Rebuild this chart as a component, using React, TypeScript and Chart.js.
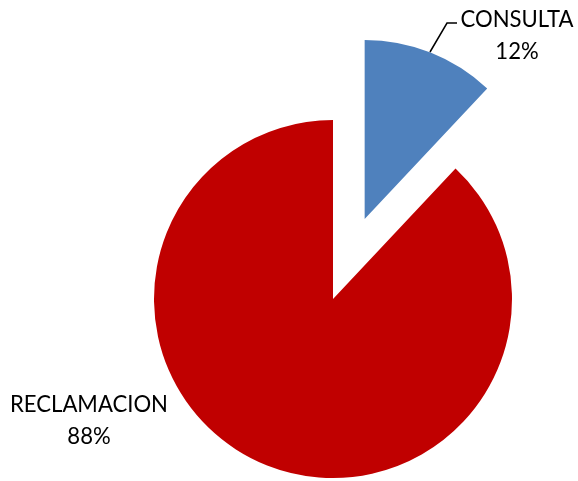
import React, { useEffect, useRef } from "react";
import { Chart, registerables } from "chart.js";

Chart.register(...registerables);

const categories = ["CONSULTA", "RECLAMACION"];
const values = [12, 88];
const colors = ["#4F81BD", "#C00000"];
const explode = [86, 0];

const FONT_FAMILY = "Lato, 'Open Sans', sans-serif";

const explodePlugin = {
  id: "explodeSlices",
  afterUpdate(chart: any) {
    const meta = chart.getDatasetMeta(0);
    meta.data.forEach((arc: any, i: number) => {
      const d = explode[i] || 0;
      if (!d) return;
      const mid = (arc.startAngle + arc.endAngle) / 2;
      arc.x = arc.x + Math.cos(mid) * d;
      arc.y = arc.y + Math.sin(mid) * d;
    });
  },
};

const labelPlugin = {
  id: "pieLabels",
  afterDatasetsDraw(chart: any) {
    const ctx = chart.ctx as CanvasRenderingContext2D;
    const data = chart.data.datasets[0].data as number[];
    const labels = chart.data.labels as string[];
    const total = data.reduce((a, b) => a + b, 0);
    const pos = [
      { x: 517, y: 27 },
      { x: 89, y: 412 },
    ];
    ctx.save();
    ctx.font = `24px ${FONT_FAMILY}`;
    const w = ctx.measureText("RECLAMACION").width;
    const size = (24 * 158) / w;
    ctx.font = `${size}px ${FONT_FAMILY}`;
    ctx.fillStyle = "#000000";
    ctx.textAlign = "center";
    ctx.textBaseline = "alphabetic";
    labels.forEach((lab, i) => {
      const pct = Math.round((data[i] / total) * 100) + "%";
      ctx.fillText(lab, pos[i].x, pos[i].y);
      ctx.fillText(pct, pos[i].x, pos[i].y + 32);
    });
    ctx.strokeStyle = "#000000";
    ctx.lineWidth = 1.5;
    ctx.beginPath();
    ctx.moveTo(430, 52);
    ctx.lineTo(447, 23);
    ctx.lineTo(457, 23);
    ctx.stroke();
    ctx.restore();
  },
};

export default function App() {
  const ref = useRef<HTMLCanvasElement | null>(null);
  useEffect(() => {
    if (!ref.current) return;
    const chart = new Chart(ref.current, {
      type: "pie",
      data: {
        labels: categories,
        datasets: [
          {
            data: values,
            backgroundColor: colors,
            borderWidth: 0,
            hoverOffset: 0,
          },
        ],
      },
      options: {
        responsive: false,
        animation: false,
        radius: 179,
        layout: { padding: { left: 88, top: 117, right: 0, bottom: 0 } },
        plugins: {
          legend: { display: false },
          tooltip: { enabled: false },
        },
      } as any,
      plugins: [explodePlugin, labelPlugin],
    });
    return () => chart.destroy();
  }, []);
  return (
    <div style={{ position: "fixed", left: 0, top: 0, width: 578, height: 481, background: "#fff" }}>
      <canvas ref={ref} width={578} height={481} style={{ display: "block" }} />
    </div>
  );
}
